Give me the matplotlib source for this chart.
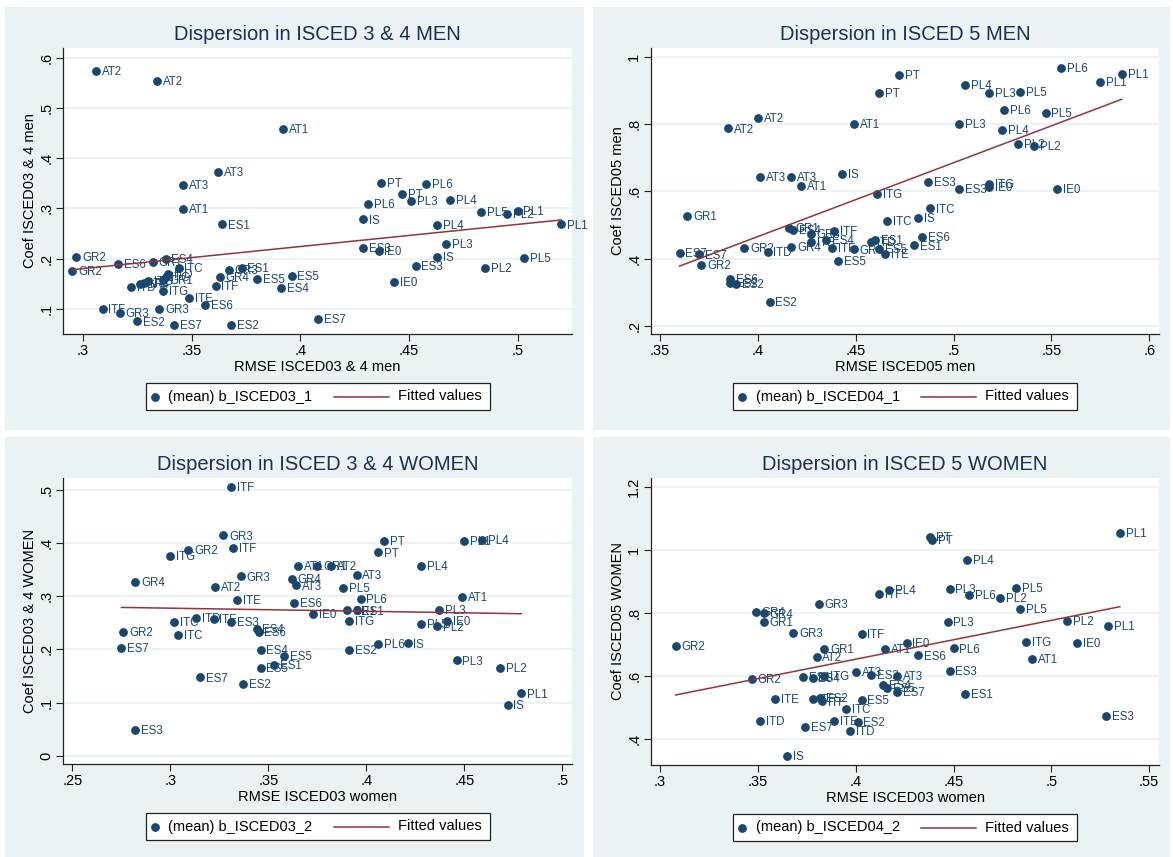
import numpy as np
import matplotlib
matplotlib.use('Agg')
import matplotlib.pyplot as plt
from matplotlib.patches import Rectangle
from matplotlib.lines import Line2D

plt.rcParams['font.family'] = ['Liberation Sans', 'DejaVu Sans']

W, H = 1173, 857
NAVY = '#1a476f'
MAROON = '#90353b'
BG = '#eaf2f3'
TITLE_C = '#1c2f55'

# ---------------- data: ISCED 3 & 4 men ----------------
m34_lab = ['AT2', 'AT2', 'AT1', 'AT3', 'AT3', 'AT1', 'ES1', 'GR2', 'GR2', 'ES6',
           'GR1', 'ES4', 'ITC', 'ITD', 'ITC', 'GR1', 'ITG', 'ITE', 'GR4', 'ITD',
           'ITG', 'ITE', 'ES6', 'ITF', 'GR4', 'GR3', 'ES1', 'ES5', 'ITF', 'GR3',
           'ES2', 'GR3', 'ES7', 'ES2', 'PT', 'PT', 'PL6', 'PL3', 'PL4', 'PL6',
           'PL5', 'PL2', 'PL1', 'IS', 'PL4', 'PL1', 'ES3', 'IE0', 'PL3', 'IS',
           'PL5', 'ES3', 'PL2', 'ES5', 'ES4', 'IE0', 'ES7']
m34_x = [.306, .334, .392, .362, .346, .346, .364, .297, .295, .316,
         .332, .338, .344, .339, .338, .337, .330, .328, .326, .322,
         .337, .349, .356, .361, .363, .367, .373, .380, .309, .317,
         .325, .335, .342, .368, .437, .447, .458, .451, .469, .431,
         .483, .495, .500, .429, .463, .520, .429, .436, .467, .463,
         .503, .453, .485, .396, .391, .443, .408]
m34_y = [.573, .553, .458, .372, .347, .299, .268, .204, .176, .189,
         .193, .199, .181, .169, .163, .158, .156, .151, .149, .144,
         .135, .121, .107, .146, .164, .178, .181, .160, .100, .092,
         .075, .100, .068, .068, .351, .329, .349, .314, .317, .308,
         .293, .288, .294, .278, .267, .268, .221, .215, .230, .203,
         .202, .186, .182, .165, .142, .153, .080]

# ---------------- data: ISCED 5 men ----------------
m5_lab = ['PT', 'PT', 'AT2', 'AT2', 'AT1', 'AT1', 'IS', 'IS', 'AT3', 'AT3',
          'ITG', 'ITG', 'GR1', 'GR1', 'ES4', 'ES4', 'GR3', 'GR4', 'ITF', 'ITF',
          'ITE', 'ITE', 'GR4', 'GR2', 'GR2', 'ITD', 'ES5', 'ES5', 'ES7', 'ES7',
          'ES6', 'ES6', 'ES2', 'ES2', 'ES2', 'ES1', 'ES1', 'ITC', 'ITC', 'ITD',
          'ES3', 'ES3', 'IE0', 'IE0', 'PL6', 'PL1', 'PL1', 'PL4', 'PL3', 'PL5',
          'PL6', 'PL5', 'PL3', 'PL4', 'PL2', 'PL2']
m5_x = [.462, .472, .400, .385, .449, .422, .443, .482, .401, .417,
        .461, .518, .364, .416, .418, .435, .427, .449, .439, .438,
        .427, .465, .417, .393, .371, .405, .441, .462, .360, .370,
        .386, .484, .386, .389, .406, .460, .480, .466, .488, .458,
        .487, .503, .518, .553, .555, .586, .575, .506, .518, .534,
        .526, .547, .503, .525, .533, .541]
m5_y = [.894, .945, .819, .787, .800, .615, .652, .522, .644, .644,
        .592, .622, .527, .491, .485, .455, .474, .427, .483, .431,
        .449, .413, .435, .432, .381, .419, .393, .428, .416, .412,
        .339, .464, .326, .324, .271, .455, .439, .513, .549, .449,
        .628, .607, .613, .607, .968, .950, .925, .916, .893, .897,
        .843, .832, .801, .783, .742, .734]

# ---------------- data: ISCED 3 & 4 women ----------------
w34_lab = ['ITF', 'GR3', 'GR2', 'ITF', 'ITG', 'GR4', 'AT2', 'GR3', 'ITE', 'ITD',
           'ITC', 'ITE', 'ES3', 'GR2', 'ITC', 'ES4', 'ES6', 'ES7', 'ES4', 'ES5',
           'ES1', 'ES5', 'ES7', 'ES2', 'ES3', 'AT1', 'GR1', 'AT2', 'GR4', 'AT3',
           'AT3', 'PL5', 'PL6', 'ES6', 'IE0', 'GR1', 'ES1', 'ITG', 'ES2', 'PL6',
           'IS', 'PT', 'PT', 'PL1', 'PL4', 'PL4', 'AT1', 'PL3', 'PL5', 'PL2',
           'IE0', 'PL3', 'PL2', 'PL1', 'IS']
w34_x = [.331, .327, .309, .332, .300, .282, .323, .336, .334, .313,
         .302, .322, .331, .276, .304, .344, .345, .275, .346, .358,
         .353, .346, .315, .337, .282, .365, .375, .382, .362, .364,
         .395, .388, .397, .363, .373, .390, .395, .391, .391, .406,
         .421, .409, .406, .450, .459, .428, .449, .437, .428, .436,
         .441, .446, .468, .479, .472]
w34_y = [.505, .414, .387, .391, .376, .326, .318, .337, .293, .259,
         .252, .257, .252, .233, .227, .239, .233, .202, .199, .188,
         .171, .165, .147, .135, .048, .357, .357, .356, .333, .320,
         .339, .315, .295, .287, .267, .273, .273, .254, .199, .210,
         .211, .404, .382, .404, .406, .356, .298, .274, .248, .243,
         .254, .179, .165, .117, .095]

# ---------------- data: ISCED 5 women ----------------
w5_lab = ['GR2', 'GR3', 'GR4', 'GR4', 'GR1', 'GR3', 'ITF', 'GR1', 'AT2', 'AT3',
          'GR2', 'ES1', 'ES4', 'ITG', 'ES2', 'ITE', 'ITF', 'ES2', 'ITF', 'ES5',
          'ITC', 'ITD', 'ITE', 'ES2', 'ES7', 'ITD', 'IS', 'ITF', 'PL4', 'AT1',
          'ES4', 'ES5', 'PT', 'PT', 'PL1', 'PL4', 'PL3', 'PL6', 'PL5', 'PL2',
          'PL5', 'PL3', 'PL2', 'PL1', 'ITG', 'IE0', 'IE0', 'PL6', 'ES6', 'AT1',
          'ES3', 'AT3', 'ES7', 'ES1', 'ES3']
w5_x = [.308, .381, .349, .353, .353, .368, .403, .384, .380, .400,
        .347, .373, .378, .384, .408, .359, .378, .382, .383, .403,
        .395, .351, .389, .401, .374, .397, .365, .412, .417, .415,
        .414, .416, .438, .439, .535, .457, .448, .458, .482, .474,
        .484, .447, .508, .529, .487, .513, .426, .450, .432, .490,
        .448, .421, .421, .456, .528]
w5_y = [.697, .829, .804, .799, .773, .737, .735, .687, .662, .614,
        .592, .598, .595, .600, .603, .529, .527, .531, .520, .525,
        .497, .459, .457, .456, .438, .425, .347, .861, .873, .687,
        .571, .564, 1.041, 1.031, 1.053, .970, .878, .859, .881, .848,
        .813, .771, .776, .759, .708, .705, .705, .688, .666, .656,
        .618, .602, .550, .544, .474]

# ---------------- axes text ----------------
titles = ['Dispersion in ISCED 3 & 4 MEN', 'Dispersion in ISCED 5 MEN',
          'Dispersion in ISCED 3 & 4 WOMEN', 'Dispersion in ISCED 5 WOMEN']
xlabels = ['RMSE ISCED03 & 4 men', 'RMSE ISCED05 men',
           'RMSE ISCED03 women', 'RMSE ISCED03 women']
ylabels = ['Coef ISCED03 & 4 men', 'Coef ISCED05 men',
           'Coef ISCED03 & 4 WOMEN', 'Coef ISCED05 WOMEN']
leglabels = ['(mean) b_ISCED03_1', '(mean) b_ISCED04_1',
             '(mean) b_ISCED03_2', '(mean) b_ISCED04_2']

xticks = [[.3, .35, .4, .45, .5], [.35, .4, .45, .5, .55, .6],
          [.25, .3, .35, .4, .45, .5], [.3, .35, .4, .45, .5, .55]]
xticklabels = [['.3', '.35', '.4', '.45', '.5'], ['.35', '.4', '.45', '.5', '.55', '.6'],
               ['.25', '.3', '.35', '.4', '.45', '.5'], ['.3', '.35', '.4', '.45', '.5', '.55']]
yticks = [[.1, .2, .3, .4, .5, .6], [.2, .4, .6, .8, 1.0],
          [0, .1, .2, .3, .4, .5], [.4, .6, .8, 1.0, 1.2]]
yticklabels = [['.1', '.2', '.3', '.4', '.5', '.6'], ['.2', '.4', '.6', '.8', '1'],
               ['0', '.1', '.2', '.3', '.4', '.5'], ['.4', '.6', '.8', '1', '1.2']]
xlims = [(.2908, .525), (.3454, .605), (.2452, .5049), (.2954, .555)]
ylims = [(.05, .619), (.1753, 1.0265), (-.0156, .522), (.3184, 1.2286)]

# layout in pixels: background box and plot box (left, top, right, bottom)
bg_boxes = [(5, 7, 584, 430), (593, 7, 1170, 430), (5, 437, 584, 857), (593, 437, 1170, 857)]
plot_boxes = [(63, 48, 572, 334), (651, 48, 1159, 334), (63, 478, 572, 764), (651, 478, 1159, 765)]

data = [(m34_lab, m34_x, m34_y), (m5_lab, m5_x, m5_y),
        (w34_lab, w34_x, w34_y), (w5_lab, w5_x, w5_y)]

fig = plt.figure(figsize=(W / 100, H / 100), dpi=100)
fig.patch.set_facecolor('white')


def fx(px):
    return px / W


def fy(py):
    return 1 - py / H


for i in range(4):
    labs, xs, ys = data[i]
    bl, bt, br, bb = bg_boxes[i]
    fig.add_artist(Rectangle((fx(bl), fy(bb)), (br - bl) / W, (bb - bt) / H,
                             transform=fig.transFigure, facecolor=BG,
                             edgecolor='none', zorder=-5))
    l, t, r, b = plot_boxes[i]
    ax = fig.add_axes([fx(l), fy(b), (r - l) / W, (b - t) / H])
    ax.set_facecolor('white')
    for s in ['top', 'right']:
        ax.spines[s].set_visible(False)
    for s in ['left', 'bottom']:
        ax.spines[s].set_color('#222222')
        ax.spines[s].set_linewidth(0.9)
    ax.set_xlim(*xlims[i])
    ax.set_ylim(*ylims[i])
    ax.set_xticks(xticks[i])
    ax.set_xticklabels(xticklabels[i])
    ax.set_yticks(yticks[i])
    ax.set_yticklabels(yticklabels[i], rotation=90, va='center')
    ax.tick_params(length=5, width=0.8, labelsize=10.5, pad=2, color='#222222')
    ax.grid(axis='y', color=BG, linewidth=1.3)
    ax.set_axisbelow(True)

    ax.plot(xs, ys, 'o', ms=5.3, color=NAVY, clip_on=False, zorder=3)
    for lab, x, y in zip(labs, xs, ys):
        ax.annotate(lab, (x, y), xytext=(4.2, -0.8), textcoords='offset points',
                    fontsize=8.3, color=NAVY, ha='left', va='center', zorder=3)

    coef = np.polyfit(xs, ys, 1)
    xx = np.array([min(xs), max(xs)])
    ax.plot(xx, np.polyval(coef, xx), color=MAROON, lw=1.1, zorder=4)

    cx = (l + r) / 2
    fig.text(fx(cx), fy(t - 14), titles[i], ha='center', va='center',
             fontsize=14.5, color=TITLE_C)
    fig.text(fx(cx), fy(b + 33), xlabels[i], ha='center', va='center', fontsize=10.5)
    fig.text(fx(l - 33), fy((t + b) / 2), ylabels[i], ha='center', va='center',
             rotation=90, fontsize=10.5)

    # legend box
    lx0 = cx - 172
    ly = b + 62.5
    fig.add_artist(Rectangle((fx(lx0), fy(ly + 13.5)), 344 / W, 27 / H,
                             transform=fig.transFigure, facecolor='white',
                             edgecolor='#222222', linewidth=0.9))
    fig.add_artist(Line2D([fx(lx0 + 9)], [fy(ly)], marker='o', ms=5.3,
                          color=NAVY, linestyle='none', transform=fig.transFigure))
    fig.text(fx(lx0 + 23), fy(ly), leglabels[i], ha='left', va='center', fontsize=10.5)
    fig.add_artist(Line2D([fx(lx0 + 188), fx(lx0 + 243)], [fy(ly), fy(ly)],
                          color=MAROON, lw=1.1, transform=fig.transFigure))
    fig.text(fx(lx0 + 252), fy(ly), 'Fitted values', ha='left', va='center', fontsize=10.5)

fig.savefig('out.png', dpi=100)
